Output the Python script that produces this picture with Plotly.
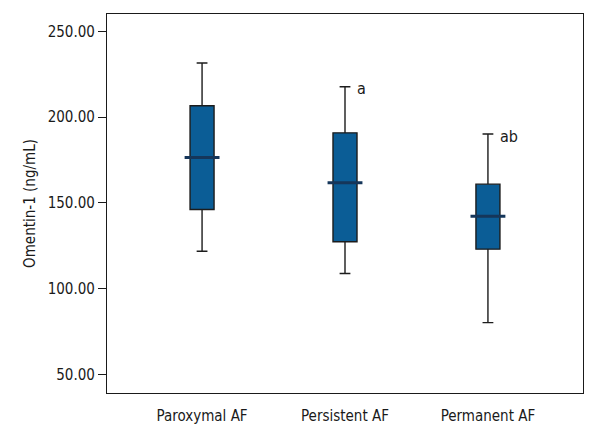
import plotly.graph_objects as go

categories = ["Paroxymal AF", "Persistent AF", "Permanent AF"]
lower_whisker = [121.8, 108.8, 80.2]
q1_values = [146.1, 127.3, 123.0]
median_values = [176.5, 161.7, 142.2]
q3_values = [206.6, 190.8, 160.9]
upper_whisker = [231.5, 217.7, 190.1]
sig_labels = ["", "a", "ab"]

FONT = "DejaVu Sans Condensed, DejaVu Sans, sans-serif"
FS = 15
BOX_FILL = "#0b5d96"
MEDIAN_COLOR = "#15365a"
TXT = "#1a1a1a"

fig = go.Figure()
positions = list(range(len(categories)))
for i, cat in enumerate(categories):
    fig.add_trace(go.Box(
        x=[positions[i]],
        q1=[q1_values[i]], median=[median_values[i]], q3=[q3_values[i]],
        lowerfence=[lower_whisker[i]], upperfence=[upper_whisker[i]],
        width=0.168, whiskerwidth=0.45,
        fillcolor=BOX_FILL,
        line=dict(color="#1c1c1c", width=1.4),
        boxpoints=False, showlegend=False, hoverinfo="skip",
        name=cat,
    ))

# wider, darker median lines
mx, my = [], []
for i in positions:
    mx += [i - 0.122, i + 0.122, None]
    my += [median_values[i], median_values[i], None]
fig.add_trace(go.Scatter(x=mx, y=my, mode="lines",
                         line=dict(color=MEDIAN_COLOR, width=3),
                         showlegend=False, hoverinfo="skip"))

for i, lab in enumerate(sig_labels):
    if lab:
        fig.add_annotation(x=positions[i] + 0.07, y=upper_whisker[i], text=lab,
                           showarrow=False, xanchor="left", yanchor="middle",
                           yshift=-2,
                           font=dict(family=FONT, size=FS + 1, color=TXT))

# page body has an 8px margin, so the figure is 592x432 placed at (8, 8)
fig.update_layout(
    width=592, height=432,
    margin=dict(l=99, r=17, t=6, b=47),
    paper_bgcolor="white", plot_bgcolor="white",
    font=dict(family=FONT, size=FS, color=TXT),
)
fig.update_xaxes(
    range=[-0.665, 2.665], tickvals=positions, ticktext=categories,
    showgrid=False, zeroline=False, automargin=False,
    showline=True, linecolor=TXT, linewidth=1.2, mirror=True,
    ticks="outside", ticklen=9, tickcolor="rgba(0,0,0,0)",
    tickfont=dict(family=FONT, size=FS, color=TXT),
)
fig.update_yaxes(
    range=[39.15, 260.1], tick0=50, dtick=50, tickformat=".2f",
    showgrid=False, zeroline=False, automargin=False,
    showline=True, linecolor=TXT, linewidth=1.2, mirror=True,
    ticks="outside", ticklen=8, tickcolor=TXT, tickwidth=1.2,
    tickfont=dict(family=FONT, size=FS, color=TXT),
    title=dict(text="Omentin-1 (ng/mL)", standoff=8,
               font=dict(family=FONT, size=FS, color=TXT)),
)

fig.write_html("out.html")
